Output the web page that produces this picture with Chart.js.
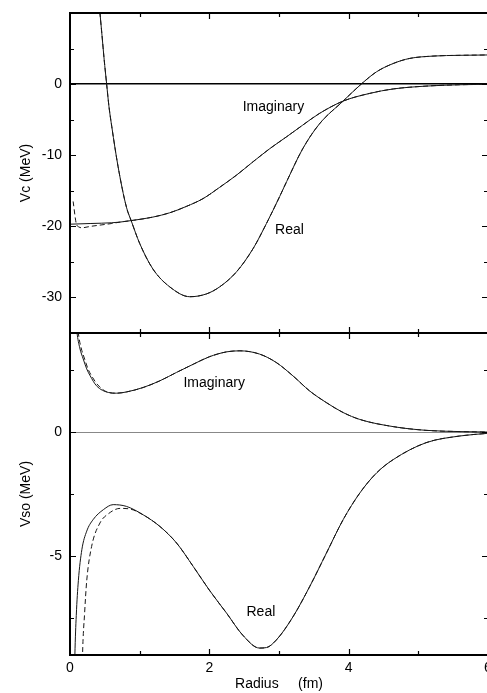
<!DOCTYPE html>
<html>
<head>
<meta charset="utf-8">
<script src="https://cdn.jsdelivr.net/npm/chart.js@4/dist/chart.umd.min.js"></script>
<style>
  html, body { margin: 0; padding: 0; background: #fff; overflow: hidden; }
  #wrap { position: relative; width: 487px; height: 693px; overflow: hidden; }
  canvas { position: absolute; left: 0; }
  #vc { top: 0; }
  #vso { top: 320px; }
</style>
</head>
<body>
<div id="wrap">
  <canvas id="vc" width="520" height="334"></canvas>
  <canvas id="vso" width="520" height="373"></canvas>
</div>
<script>
// radius axis (fm)
const radiusTicks = [0, 1, 2, 3, 4, 5, 6];
const radiusLabels = [0, 2, 4, 6];

// central potential Vc (MeV)
const vcTicks = [-30, -25, -20, -15, -10, -5, 0, 5];
const vcLabels = [-30, -20, -10, 0];
const vcRealR = [0.40, 0.43, 0.46, 0.49, 0.526, 0.56, 0.6, 0.69, 0.81, 0.88, 1.0, 1.19, 1.43, 1.72, 1.96, 2.15, 2.39, 2.63, 2.82, 3.01, 3.11, 3.34, 3.58, 3.92, 4.18, 4.4, 4.64, 4.87, 5.21, 5.6, 6.0];
const vcRealV = [13.5, 10, 6.8, 3.5, 0, -3.2, -6, -11.6, -17.3, -19.25, -22.4, -26.0, -28.5, -29.9, -29.5, -28.5, -26.4, -23.1, -19.6, -15.8, -13.7, -9.1, -5.6, -2.39, 0, 1.73, 2.9, 3.6, 3.94, 4.05, 4.1];
const vcImagR = [0, 0.3, 0.6, 0.72, 0.91, 1.19, 1.43, 1.67, 1.91, 2.15, 2.39, 2.63, 2.87, 3.11, 3.34, 3.58, 3.92, 4.3, 4.64, 5.11, 5.59, 6.0];
const vcImagV = [-19.7, -19.6, -19.5, -19.4, -19.15, -18.7, -18.1, -17.2, -16.1, -14.5, -12.8, -10.9, -9.06, -7.4, -5.77, -4.13, -2.39, -1.31, -0.68, -0.28, -0.09, -0.02];
const vcImagDashR = [0.045, 0.09, 0.13, 0.17, 0.3, 0.6, 0.72, 0.91, 1.19, 1.43, 1.67, 1.91, 2.15, 2.39, 2.63, 2.87, 3.11, 3.34, 3.58, 3.92, 4.3, 4.64, 5.11, 5.59, 6.0];
const vcImagDashV = [-16.5, -19.6, -20.1, -20.2, -20.0, -19.6, -19.4, -19.15, -18.7, -18.1, -17.2, -16.1, -14.5, -12.8, -10.9, -9.06, -7.4, -5.77, -4.13, -2.39, -1.31, -0.68, -0.28, -0.09, -0.02];

// spin-orbit potential Vso (MeV)
const vsoTicks = [-7.5, -5, -2.5, 0, 2.5];
const vsoLabels = [-5, 0];
const vsoImagR = [0.08, 0.1, 0.14, 0.19, 0.24, 0.29, 0.38, 0.55, 0.67, 0.81, 1.05, 1.29, 1.53, 1.77, 2.0, 2.25, 2.44, 2.72, 2.96, 3.2, 3.44, 3.68, 3.92, 4.16, 4.64, 5.11, 5.6, 6.0];
const vsoImagV = [4.7, 4.03, 3.4, 2.95, 2.55, 2.27, 1.87, 1.6, 1.57, 1.62, 1.8, 2.07, 2.41, 2.74, 3.04, 3.24, 3.28, 3.15, 2.81, 2.27, 1.66, 1.19, 0.79, 0.51, 0.22, 0.07, 0.02, 0];
const vsoImagDashR = [0.1, 0.12, 0.16, 0.21, 0.26, 0.31, 0.4, 0.55, 0.67, 0.81, 1.05, 1.29, 1.53, 1.77, 2.0, 2.25, 2.44, 2.72, 2.96, 3.2, 3.44, 3.68, 3.92, 4.16, 4.64, 5.11, 5.6, 6.0];
const vsoImagDashV = [4.7, 4.0, 3.4, 2.95, 2.54, 2.27, 1.9, 1.6, 1.57, 1.62, 1.8, 2.07, 2.41, 2.74, 3.04, 3.24, 3.28, 3.15, 2.81, 2.27, 1.66, 1.19, 0.79, 0.51, 0.22, 0.07, 0.02, 0];
const vsoRealR = [0.06, 0.07, 0.09, 0.12, 0.17, 0.24, 0.33, 0.48, 0.62, 0.81, 1.05, 1.29, 1.53, 1.77, 2.0, 2.25, 2.48, 2.72, 2.82, 2.96, 3.2, 3.44, 3.68, 3.92, 4.16, 4.4, 4.64, 5.11, 5.59, 6.0];
const vsoRealV = [-10.5, -9.0, -7.4, -6.0, -4.75, -4.0, -3.54, -3.13, -2.93, -3.0, -3.34, -3.81, -4.48, -5.43, -6.38, -7.32, -8.2, -8.72, -8.7, -8.4, -7.46, -6.24, -4.89, -3.54, -2.46, -1.65, -1.11, -0.43, -0.16, -0.05];
const vsoRealDashR = [0.17, 0.18, 0.21, 0.24, 0.31, 0.43, 0.55, 0.72, 0.85, 1.05, 1.29, 1.53, 1.77, 2.0, 2.25, 2.48, 2.72, 2.82, 2.96, 3.2, 3.44, 3.68, 3.92, 4.16, 4.4, 4.64, 5.11, 5.59, 6.0];
const vsoRealDashV = [-10.5, -9.0, -7.3, -6.0, -4.62, -3.67, -3.3, -3.08, -3.1, -3.34, -3.81, -4.48, -5.43, -6.38, -7.32, -8.2, -8.72, -8.7, -8.4, -7.46, -6.24, -4.89, -3.54, -2.46, -1.65, -1.11, -0.43, -0.16, -0.05];

// in-plot curve names
const vcNotes = [{ text: 'Imaginary', r: 2.92, v: -3.2 }, { text: 'Real', r: 3.15, v: -20.5 }];
const vsoNotes = [{ text: 'Imaginary', r: 2.07, v: 1.97 }, { text: 'Real', r: 2.74, v: -7.26 }];

const FONT = '"Liberation Sans", Arial, Helvetica, sans-serif';

function curve(rs, vs, dashed) {
  return {
    data: rs.map((r, i) => ({ x: r, y: vs[i] })),
    borderColor: '#151515',
    borderWidth: 1,
    borderDash: dashed ? [5, 3] : [],
    pointRadius: 0,
    cubicInterpolationMode: 'monotone',
    fill: false,
  };
}

// frame with inward ticks on all four sides, plus curve names
const framePlugin = {
  id: 'frame',
  afterDatasetsDraw(chart, args, opts) {
    const { ctx, chartArea: a, scales: { x, y } } = chart;
    ctx.save();
    ctx.strokeStyle = '#000';
    ctx.lineWidth = 1.2;
    radiusTicks.forEach((v) => {
      if (v <= x.min || v >= x.max) return;
      const px = Math.round(x.getPixelForValue(v)) + 0.5;
      const len = radiusLabels.includes(v) ? 6 : 4;
      ctx.beginPath();
      ctx.moveTo(px, a.bottom); ctx.lineTo(px, a.bottom - len);
      ctx.moveTo(px, a.top); ctx.lineTo(px, a.top + len);
      ctx.stroke();
    });
    opts.yTicks.forEach((v) => {
      if (v <= y.min || v >= y.max) return;
      const py = Math.round(y.getPixelForValue(v)) + 0.5;
      const len = opts.yLabels.includes(v) ? 6 : 4;
      ctx.beginPath();
      ctx.moveTo(a.left, py); ctx.lineTo(a.left + len, py);
      ctx.moveTo(a.right, py); ctx.lineTo(a.right - len, py);
      ctx.stroke();
    });
    ctx.lineWidth = 2;
    ctx.strokeRect(a.left, a.top, a.right - a.left, a.bottom - a.top);
    ctx.fillStyle = '#000';
    ctx.font = '14px ' + FONT;
    ctx.textAlign = 'center';
    ctx.textBaseline = 'middle';
    opts.notes.forEach((n) => ctx.fillText(n.text, x.getPixelForValue(n.r), y.getPixelForValue(n.v)));
    ctx.restore();
  },
};

function makePanel(canvas, cfg) {
  return new Chart(canvas, {
    type: 'line',
    data: { datasets: cfg.datasets },
    plugins: [framePlugin],
    options: {
      responsive: false,
      devicePixelRatio: 1,
      animation: false,
      events: [],
      layout: { padding: { top: 13, right: 32, bottom: cfg.showX ? 0 : 1, left: 0 } },
      plugins: {
        legend: { display: false },
        tooltip: { enabled: false },
        frame: { yTicks: cfg.yTicks, yLabels: cfg.yLabels, notes: cfg.notes },
      },
      scales: {
        x: {
          type: 'linear',
          min: 0,
          max: 6,
          display: cfg.showX,
          afterBuildTicks: (s) => { s.ticks = radiusTicks.map((v) => ({ value: v })); },
          afterFit: (s) => {
            s.height = cfg.showX ? 38 : 0;
            s.paddingLeft = 0; s.paddingRight = 0; s.paddingTop = 0; s.paddingBottom = 0;
          },
          grid: { display: false, drawTicks: false },
          border: { display: false },
          ticks: {
            autoSkip: false,
            maxRotation: 0,
            padding: 5,
            color: '#000',
            font: { family: FONT, size: 14 },
            callback: (v) => (radiusLabels.includes(v) ? String(v) : ''),
          },
          title: { display: true, text: 'Radius     (fm)', color: '#000', font: { family: FONT, size: 14 }, padding: { top: 0, bottom: 0 } },
        },
        y: {
          type: 'linear',
          min: cfg.yMin,
          max: cfg.yMax,
          afterBuildTicks: (s) => { s.ticks = cfg.yTicks.map((v) => ({ value: v })); },
          afterFit: (s) => {
            s.width = 70;
            s.paddingLeft = 0; s.paddingRight = 0; s.paddingTop = 0; s.paddingBottom = 0;
          },
          grid: {
            drawTicks: false,
            color: (c) => (c.tick && c.tick.value === 0 ? cfg.zeroColor : 'rgba(0,0,0,0)'),
            lineWidth: cfg.zeroWidth,
          },
          border: { display: false },
          ticks: {
            padding: 8,
            color: '#000',
            font: { family: FONT, size: 14 },
            callback: (v) => (cfg.yLabels.includes(v) ? String(v) : ''),
          },
          title: { display: true, text: cfg.yTitle, color: '#000', font: { family: FONT, size: 14 }, padding: { top: 18, bottom: 0 } },
        },
      },
    },
  });
}

makePanel(document.getElementById('vc'), {
  datasets: [
    curve(vcRealR, vcRealV, false),
    curve(vcRealR, vcRealV, true),
    curve(vcImagR, vcImagV, false),
    curve(vcImagDashR, vcImagDashV, true),
  ],
  yMin: -35, yMax: 10,
  yTicks: vcTicks, yLabels: vcLabels,
  yTitle: 'Vc (MeV)',
  notes: vcNotes,
  zeroColor: '#000', zeroWidth: 1.5,
  showX: false,
});

makePanel(document.getElementById('vso'), {
  datasets: [
    curve(vsoRealR, vsoRealV, false),
    curve(vsoRealDashR, vsoRealDashV, true),
    curve(vsoImagR, vsoImagV, false),
    curve(vsoImagDashR, vsoImagDashV, true),
  ],
  yMin: -9, yMax: 4,
  yTicks: vsoTicks, yLabels: vsoLabels,
  yTitle: 'Vso (MeV)',
  notes: vsoNotes,
  zeroColor: '#888', zeroWidth: 1,
  showX: true,
});
</script>
</body>
</html>
